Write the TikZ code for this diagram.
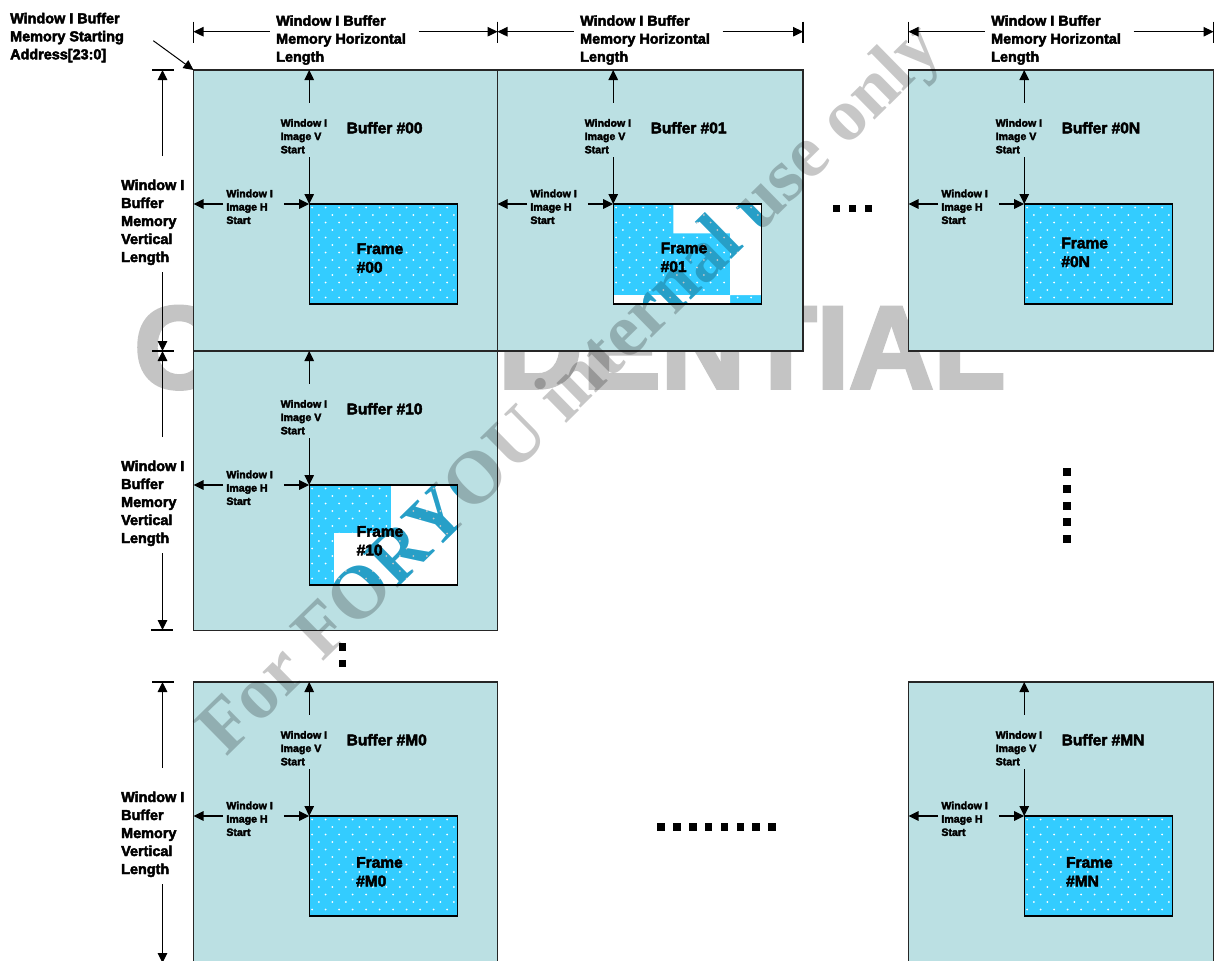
\documentclass[tikz,border=0pt]{standalone}
\usepackage{fontspec}
\setmainfont{Liberation Sans}[BoldFeatures={FakeBold=3}]
\newfontfamily\wmserif{Liberation Serif}
\usetikzlibrary{arrows.meta,calc}

\definecolor{bufcol}{HTML}{BBE0E3}
\definecolor{frmcol}{HTML}{33CCFF}
\definecolor{stampgray}{gray}{0.77}

% left-aligned stack of lines whose baseline is the first line
\newcommand\mlines[1]{\vtop{\let\\\cr\halign{##\hfil\cr#1\crcr}}}

\tikzset{
  biglbl/.style={font=\bfseries\fontsize{14.4}{18}\selectfont, inner sep=0pt, anchor=base west},
  smalllbl/.style={font=\bfseries\fontsize{10.6}{13.3}\selectfont, inner sep=0pt, anchor=base west},
  namelbl/.style={font=\bfseries\fontsize{15.5}{18.7}\selectfont, inner sep=0pt, anchor=base west},
  arr/.style={-{Triangle[length=10pt,width=9.5pt]}, line width=1.2pt},
  tickline/.style={line width=1.2pt},
  bufbox/.style={draw=black!85, line width=1.2pt, fill=bufcol, inner sep=0pt, outer sep=0pt, anchor=north west},
  frmbox/.style={fill=frmcol, inner sep=0pt, outer sep=0pt, anchor=north west, minimum width=148pt, minimum height=100pt},
  dotmark/.style={fill=white},
  sq/.style={fill=black},
  wmstyle/.style={font=\wmserif\bfseries\fontsize{74.8}{74.8}\selectfont, rotate=44.5, anchor=base west, inner sep=0pt},
}

\newcommand\wmnode[2]{\node[wmstyle,#1] (#2) at (226,757.2) {For FORYOU internal use only};}

% #1 id, #2 x, #3 y, #4 width, #5 height, #6/#7 frame label offset, #8 extra code after the frame fill
\newcommand\bufblock[8]{%
  \node[bufbox, minimum width=#4, minimum height=#5] (b#1) at (#2,#3) {};
  \node[frmbox] (f#1) at ($(b#1.north west)+(115.7,134)$) {};
  #8%
  \begin{scope}
    \clip (f#1.north west) rectangle (f#1.south east);
    \begin{scope}[shift={(f#1.north west)}]
      \foreach \r in {0,...,13}{
        \foreach \c in {0,...,11}{
          \fill[dotmark] ({\c*13.5+mod(\r,2)*6.75+3},{\r*7.5+3.5}) circle (1);
        }}
    \end{scope}
  \end{scope}
  \draw[line width=1.2pt] (f#1.north west) rectangle (f#1.south east);
  \node[smalllbl] (vl#1) at ($(b#1.north west)+(87,56.7)$) {\mlines{Window I\\Image V\\Start}};
  \node[namelbl] (bl#1) at ($(b#1.north west)+(153,63.3)$) {Buffer \##1};
  \node[smalllbl] (hl#1) at ($(b#1.north west)+(32.7,127.3)$) {\mlines{Window I\\Image H\\Start}};
  \node[namelbl] (fl#1) at ($(b#1.north west)+(#6,#7)$) {\mlines{Frame\\\##1}};
  \coordinate (vu#1) at ($(b#1.north west)+(115.7,32.7)$);
  \coordinate (vd#1) at ($(b#1.north west)+(115.7,87.3)$);
  \coordinate (hu#1) at ($(b#1.north west)+(29.7,134)$);
  \coordinate (hd#1) at ($(b#1.north west)+(90.3,134)$);
  \draw[arr] (vu#1) -- (vu#1 |- b#1.north);
  \draw[arr] (vd#1) -- (f#1.north west);
  \draw[arr] (hu#1) -- (hu#1 -| b#1.west);
  \draw[arr] (hd#1) -- (f#1.north west);
}

% horizontal length dimension above a column: #1 id, #2 left, #3 right
\newcommand\hdim[3]{%
  \coordinate (hl-a#1) at (#2,31.7);
  \coordinate (hl-b#1) at (#3,31.7);
  \coordinate (hl-c#1) at ({#2+76},31.7);
  \coordinate (hl-d#1) at ({#2+225},31.7);
  \draw[tickline] (#2,21.7) -- (#2,43.3);
  \draw[tickline] (#3,21.7) -- (#3,43.3);
  \node[biglbl] (hlen#1) at ({#2+82.5},25.7) {\mlines{Window I Buffer\\Memory Horizontal\\Length}};
  \draw[arr] (hl-c#1) -- (hl-a#1);
  \draw[arr] (hl-d#1) -- (hl-b#1);
}

% vertical length dimension beside a row: #1 id, #2 top, #3 bottom
\newcommand\vdim[3]{%
  \coordinate (vl-a#1) at (162.5,#2);
  \coordinate (vl-b#1) at (162.5,#3);
  \coordinate (vl-c#1) at (162.5,{#2+86});
  \coordinate (vl-d#1) at (162.5,{#2+202});
  \draw[tickline] (152,#2) -- (174,#2);
  \node[biglbl] (vlen#1) at (121,{#2+120}) {\mlines{Window I\\Buffer\\Memory\\Vertical\\Length}};
  \draw[arr] (vl-c#1) -- (vl-a#1);
  \draw[arr] (vl-d#1) -- (vl-b#1);
}

\begin{document}
\begin{tikzpicture}[x=1pt,y=-1pt]
\clip (0,0) rectangle (1218,961);
\fill[white] (0,0) rectangle (1218,961);

% stamp behind the buffers
\node[font=\bfseries\fontsize{117}{117}\selectfont, text=stampgray, anchor=base west, inner sep=0pt] (stamp) at (134,388) {CONFIDENTIAL};

% buffers with their frames
\bufblock{00}{193.5}{70}{304}{281}{163}{184}{}
\bufblock{01}{497.5}{70}{305.5}{281}{163}{183.3}{%
  \fill[white] (673.3,204) rectangle (761.2,233.3) (730,204) rectangle (761.2,295) (613.2,295) rectangle (730,304);
  \begin{scope}
    \clip (673.3,204) rectangle (761.2,233.3) (730,204) rectangle (761.2,295) (613.2,295) rectangle (730,304);
    \wmnode{text=frmcol}{wm-a}
  \end{scope}}
\bufblock{0N}{908.5}{70}{305}{281}{152.7}{178.3}{}
\bufblock{10}{193.5}{351}{304}{279.5}{163}{185.7}{%
  \fill[white] (391,485) rectangle (457.2,585) (334,533) rectangle (391,585);
  \begin{scope}
    \clip (391,485) rectangle (457.2,585) (334,533) rectangle (391,585);
    \wmnode{text=frmcol}{wm-b}
  \end{scope}}
\bufblock{M0}{193.5}{682}{304}{290}{162.5}{185.7}{}
\bufblock{MN}{908.5}{682}{305}{290}{157.4}{185.7}{}

% dimensions
\hdim{0}{193.5}{497.5}
\hdim{1}{497.5}{803}
\hdim{N}{908.5}{1213.5}
\vdim{0}{70}{351}
\vdim{1}{351}{630}
\draw[tickline] (151,630) -- (173,630);
\vdim{M}{682}{963}

% starting address
\node[biglbl] (start) at (10,23.3) {\mlines{Window I Buffer\\Memory Starting\\Address[23:0]}};
\coordinate (sa) at (153.3,40.7);
\draw[arr, line width=1pt] (sa) -- (b00.north west);

% ellipsis marks
\foreach \x in {836.5,852.5,868.5} \fill[sq] (\x-3.6,205) rectangle ++(7.2,7.2);
\foreach \y in {472,489,506,522,539} \fill[sq] (1063,\y-4) rectangle ++(8,8);
\foreach \y in {647,663.5} \fill[sq] (338.8,\y-3.7) rectangle ++(7.4,7.4);
\foreach \k in {0,...,7} \fill[sq] ({661+15.86*\k-3.8},823.2) rectangle ++(7.6,7.6);

% diagonal note on top
\wmnode{text=black, text opacity=0.22}{wm}
\end{tikzpicture}
\end{document}
